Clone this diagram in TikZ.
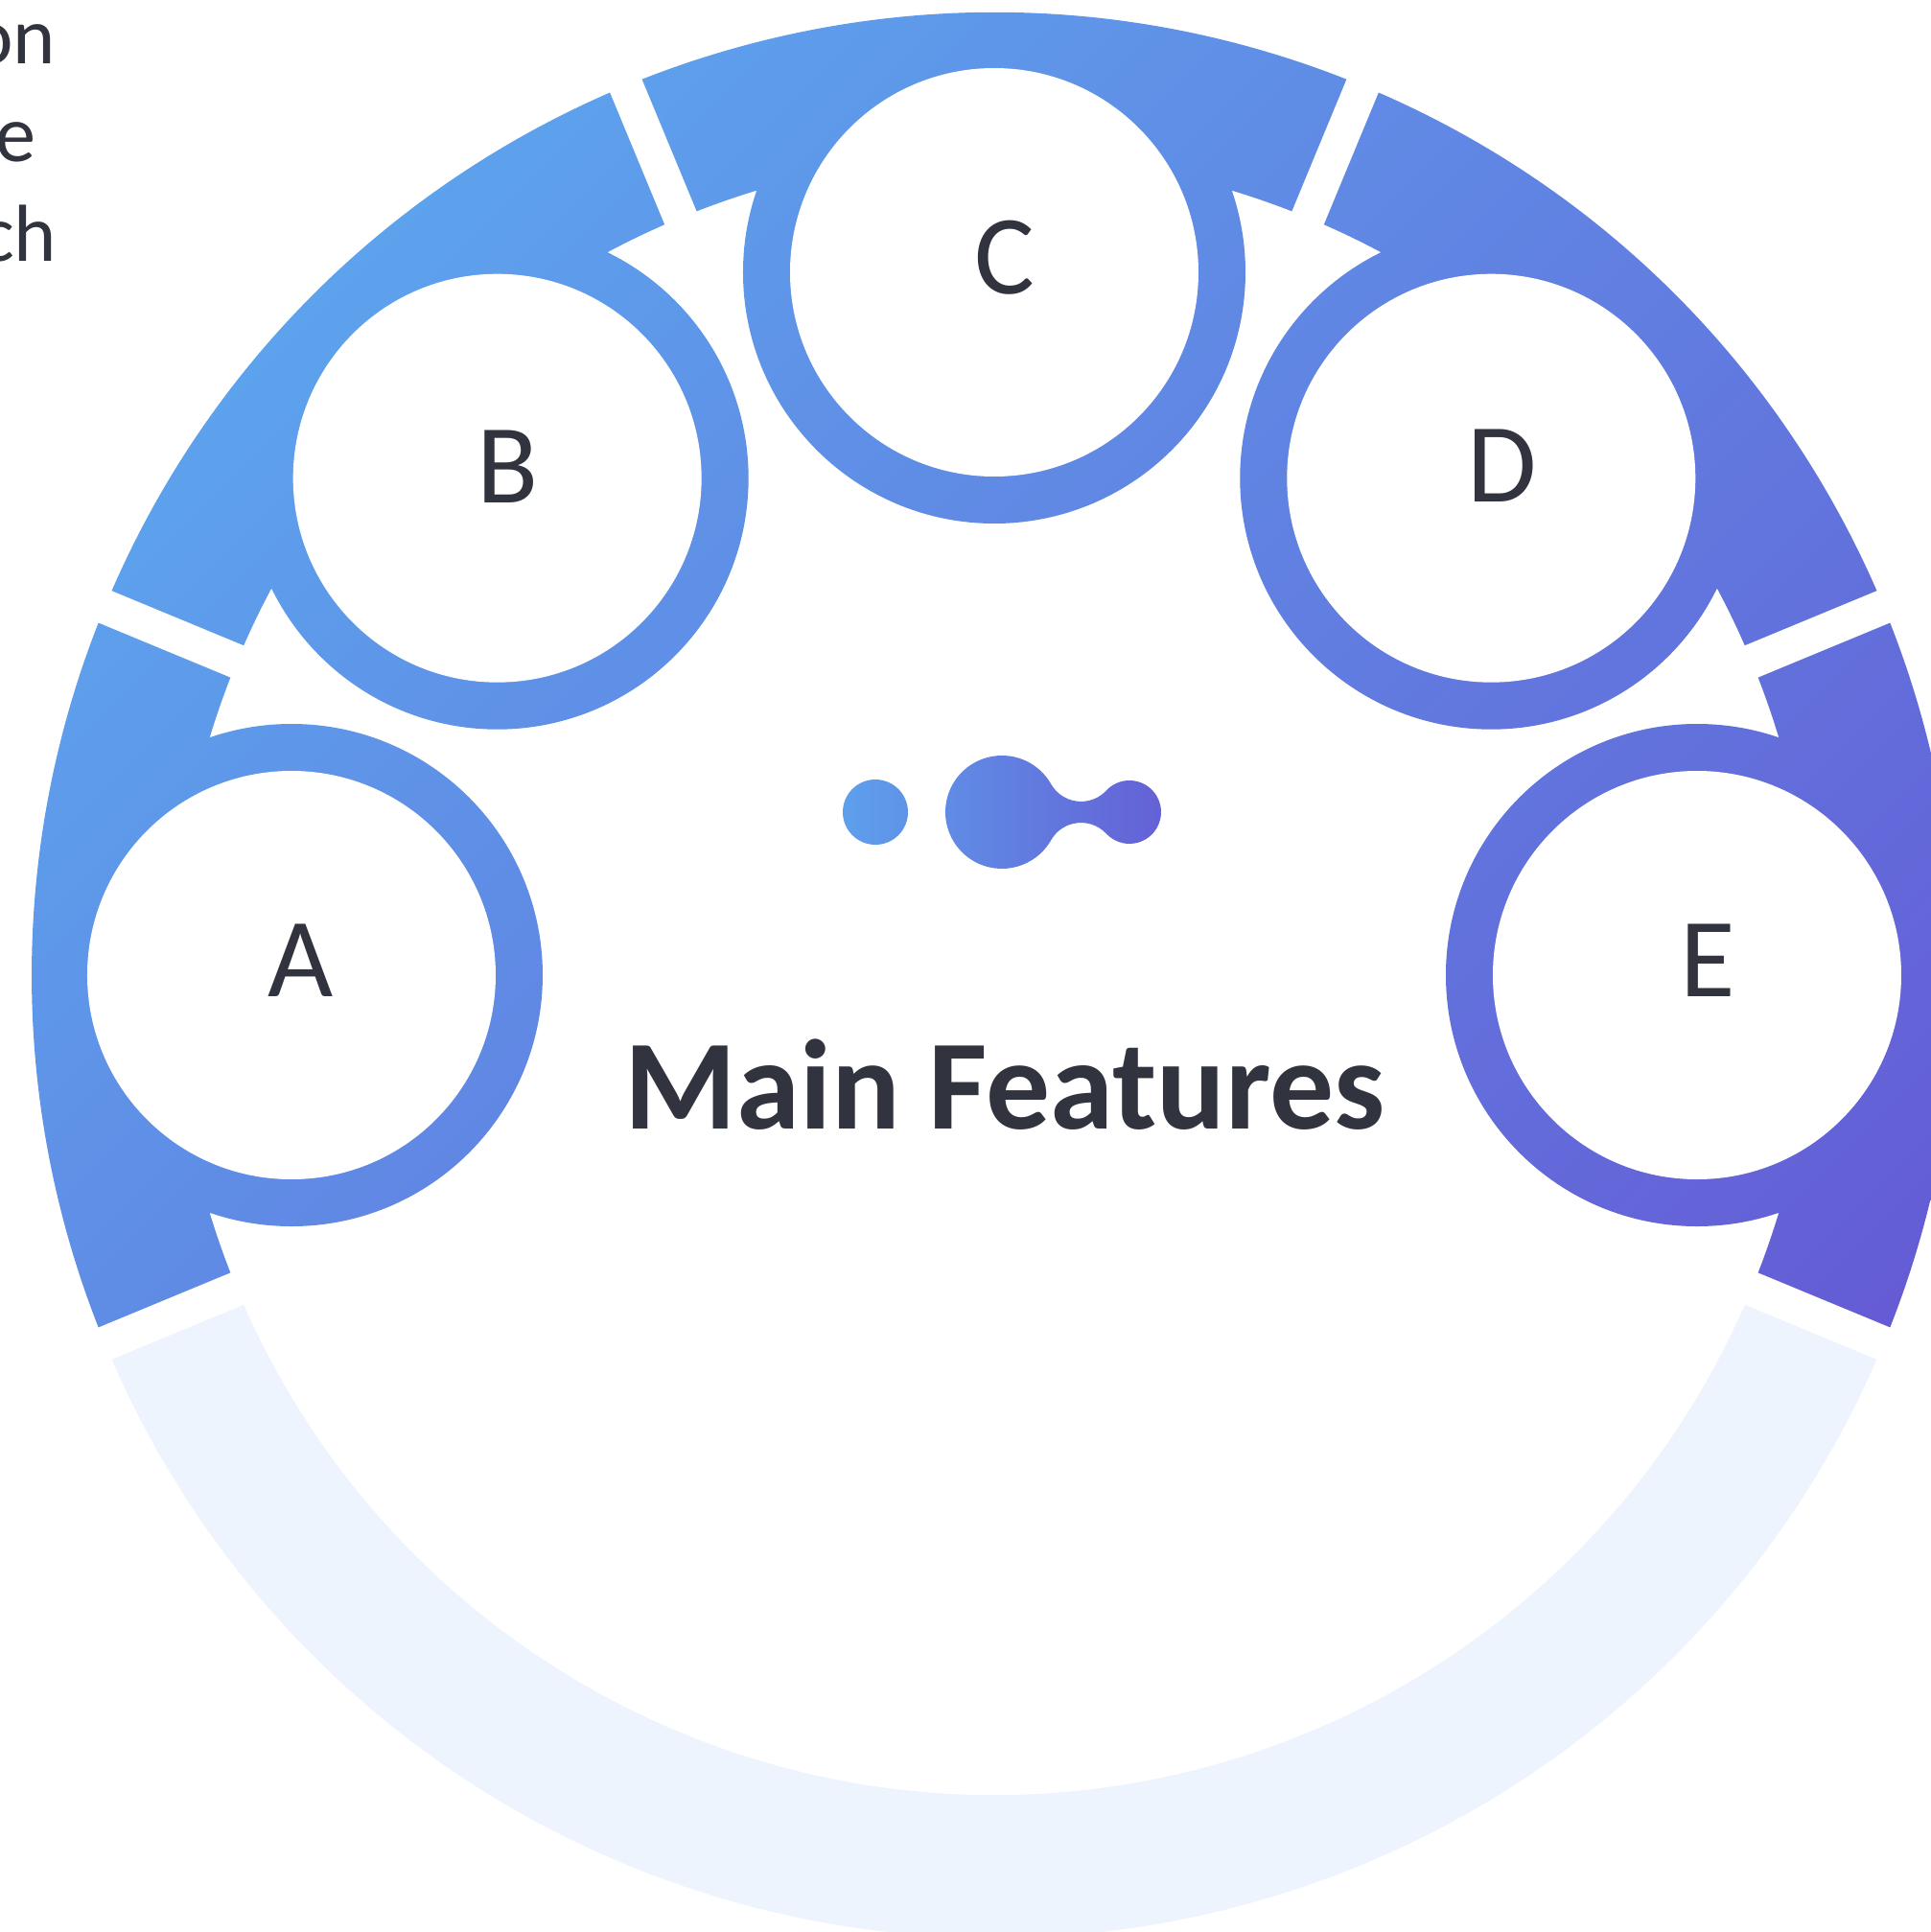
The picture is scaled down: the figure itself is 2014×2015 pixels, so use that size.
\documentclass[tikz,border=0pt]{standalone}
\usepackage{fontspec}
\setmainfont{Carlito}
\definecolor{featblue}{HTML}{5DA3ED}
\definecolor{featviolet}{HTML}{6558D4}
\definecolor{featpale}{HTML}{EEF4FD}
\definecolor{featink}{HTML}{31343E}
\definecolor{iconleft}{HTML}{5EA0EC}
\definecolor{iconright}{HTML}{6460D6}
\tikzset{
  featcircle/.style={circle, fill=white, inner sep=0pt, minimum size=42.6mm},
  featlabel/.style={text=featink, inner sep=0pt, font=\fontsize{33.5}{40}\selectfont},
  feattitle/.style={text=featink, inner sep=0pt, anchor=base, font=\bfseries\fontsize{38}{45}\selectfont},
  featnote/.style={text=featink, inner sep=0pt, anchor=base east, font=\fontsize{24}{29}\selectfont},
  gapcut/.style={white, line width=3.6mm},
}
\begin{document}
\begin{tikzpicture}[x=0.1mm, y=0.1mm]
\useasboundingbox (-1037,-998) rectangle (977,1017);
\begin{scope}
\clip (-22.5:1004) arc[start angle=-22.5, end angle=202.5, radius=1004] -- (202.5:855) arc[start angle=202.5, end angle=-22.5, radius=855] -- cycle
  (180:733) circle[radius=262] (135:733) circle[radius=262] (90:733) circle[radius=262] (45:733) circle[radius=262] (0:733) circle[radius=262];
\shade[top color=featblue, bottom color=featviolet, shading angle=45] (-1040,-1000) rectangle (1040,1020);
\end{scope}
\fill[featpale] (202.5:1004) arc[start angle=202.5, end angle=337.5, radius=1004] -- (337.5:855) arc[start angle=337.5, end angle=202.5, radius=855] -- cycle;
\foreach \g in {-22.5,22.5,...,202.5}
  \draw[gapcut] (\g:820) -- (\g:1040);
\node[featcircle] (A) at (180:733) {};
\node[featcircle] (B) at (135:733) {};
\node[featcircle] (C) at (90:733) {};
\node[featcircle] (D) at (45:733) {};
\node[featcircle] (E) at (0:733) {};
\node[featlabel] (la) at ([shift={(10,15)}]A.center) {A};
\node[featlabel] (lb) at ([shift={(11,12)}]B.center) {B};
\node[featlabel] (lc) at ([shift={(11,15)}]C.center) {C};
\node[featlabel] (ld) at ([shift={(11,13)}]D.center) {D};
\node[featlabel] (le) at ([shift={(11,15)}]E.center) {E};
\begin{scope}
\clip (-124,170) circle[radius=34]
  (59.25,199.23) arc[start angle=209.7, end angle=317, radius=36] arc[start angle=137, end angle=-137, radius=33] arc[start angle=43, end angle=150.3, radius=36] arc[start angle=-29.7, end angle=-330.3, radius=59] -- cycle;
\shade[left color=iconleft, right color=iconright] (-160,108) rectangle (180,232);
\end{scope}
\node[feattitle] (title) at (11,-160) {Main Features};
\node[featnote] (note1) at (-978,951) {on};
\node[featnote] (note2) at (-999,849) {e};
\node[featnote] (note3) at (-977,745) {ch};
\end{tikzpicture}
\end{document}
